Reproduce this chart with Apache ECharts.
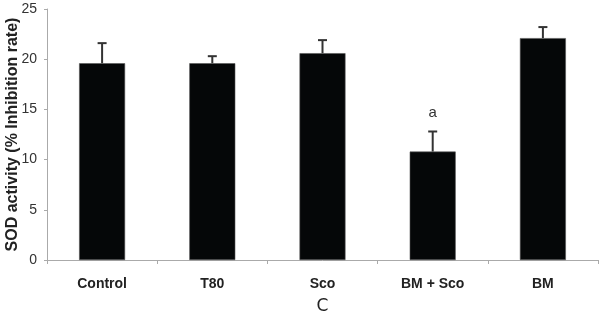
<!DOCTYPE html>
<html>
<head>
<meta charset="utf-8">
<script src="https://cdn.jsdelivr.net/npm/echarts@6/dist/echarts.min.js"></script>
<style>
  html, body { margin: 0; padding: 0; background: #fff; }
  #chart { width: 600px; height: 315px; }
</style>
</head>
<body>
<div id="chart"></div>
<script>
// 数据
var categories = ['Control', 'T80', 'Sco', 'BM + Sco', 'BM'];
var sodValues = [19.6, 19.6, 20.6, 10.8, 22.1];
var sodErrors = [2.0, 0.7, 1.3, 2.0, 1.1];
var sigLabels = ['', '', '', 'a', ''];
var yTicks = [0, 5, 10, 15, 20, 25];

(function () {
	var myChart = echarts.init(document.getElementById('chart'));

	// 误差线数据: [类目索引, 均值, 误差]
	var errData = sodValues.map(function (v, i) {
		return [i, v, sodErrors[i]];
	});

	var option = {
		animation: false,
		grid: {
			left: 47,
			right: 2,
			top: 9,
			bottom: 55,
			outerBoundsMode: 'none'
		},
		xAxis: {
			type: 'category',
			data: categories,
			axisLine: {
				lineStyle: { color: '#aaa', width: 1 }
			},
			axisTick: {
				show: true,
				length: 4,
				lineStyle: { color: '#aaa' }
			},
			axisLabel: {
				color: '#222',
				fontFamily: 'Liberation Sans',
				fontWeight: 'bold',
				fontSize: 14,
				margin: 17
			},
			name: 'C',
			nameLocation: 'middle',
			nameGap: 38,
			nameMoveOverlap: false,
			nameTextStyle: {
				color: '#222',
				fontFamily: 'DejaVu Sans',
				fontSize: 17
			}
		},
		yAxis: {
			type: 'value',
			min: yTicks[0],
			max: yTicks[yTicks.length - 1],
			interval: 5,
			axisLine: {
				show: true,
				lineStyle: { color: '#aaa', width: 1 }
			},
			axisTick: {
				show: true,
				length: 3,
				lineStyle: { color: '#aaa' }
			},
			splitLine: { show: false },
			axisLabel: {
				color: '#333',
				fontFamily: 'Liberation Sans',
				fontSize: 14,
				margin: 10
			},
			name: 'SOD activity (% Inhibition rate)',
			nameLocation: 'middle',
			nameGap: 26,
			nameMoveOverlap: false,
			nameTextStyle: {
				color: '#222',
				fontFamily: 'Liberation Sans',
				fontWeight: 'bold',
				fontSize: 16
			}
		},
		series: [{
			type: 'bar',
			data: sodValues,
			barWidth: 46,
			itemStyle: {
				color: '#050708',
				borderColor: '#555',
				borderWidth: 0.6
			}
		}, {
			type: 'custom',
			data: errData,
			z: 5,
			renderItem: function (params, api) {
				var idx = api.value(0);
				var mean = api.value(1);
				var err = api.value(2);
				var base = api.coord([idx, mean]);
				var top = api.coord([idx, mean + err]);
				var half = 4.5;
				var children = [{
					type: 'line',
					shape: { x1: base[0], y1: base[1], x2: top[0], y2: top[1] },
					style: { stroke: '#333', lineWidth: 2 }
				}, {
					type: 'line',
					shape: { x1: top[0] - half, y1: top[1], x2: top[0] + half, y2: top[1] },
					style: { stroke: '#333', lineWidth: 2 }
				}];
				var sig = sigLabels[params.dataIndex];
				if (sig) {
					children.push({
						type: 'text',
						style: {
							text: sig,
							x: top[0],
							y: top[1] - 11,
							align: 'center',
							verticalAlign: 'bottom',
							fill: '#333',
							font: '15px "Liberation Sans"'
						}
					});
				}
				return { type: 'group', children: children };
			}
		}]
	};

	myChart.setOption(option);
})();
</script>
</body>
</html>
